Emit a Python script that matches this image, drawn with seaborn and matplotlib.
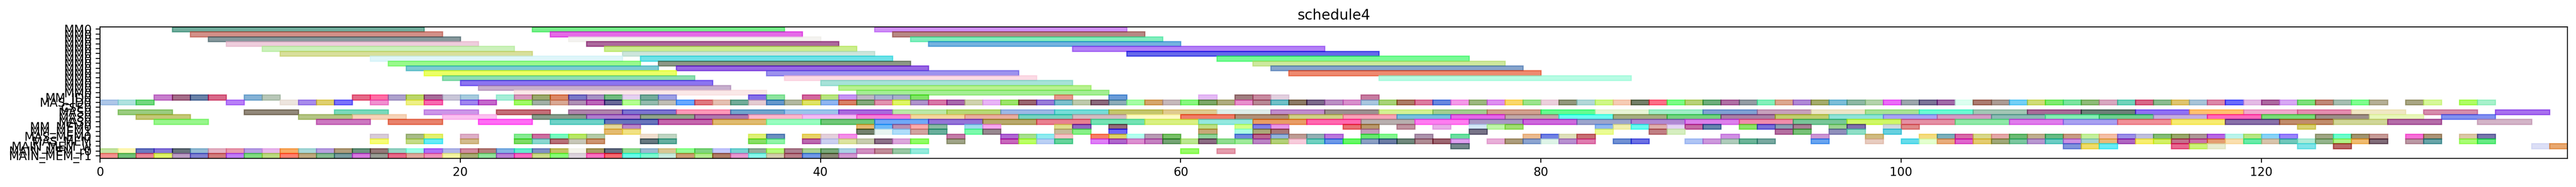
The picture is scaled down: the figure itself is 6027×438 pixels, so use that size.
import matplotlib
matplotlib.use('Agg')
import matplotlib.pyplot as plt
import matplotlib.colors as mcolors
import seaborn as sns
import numpy as np

title = 'schedule4'
x_ticks = [0, 20, 40, 60, 80, 100, 120]
x_max = 137

row_labels = ['MM0'] * 14 + ['MM_ID0', 'MAS_ID0', 'CSE0', 'MAS0', 'MAS0', 'MAS0', 'MM_MEM0', 'MM_MEM1',
                             'MAS_MEM0', 'MAS_MEM', 'MAIN_MEM_w', 'MAIN_MEM_r0', 'MAIN_MEM_r1']
row_lengths = [14] * 14 + [1, 1, 1, 3, 3, 3, 1, 1, 1, 1, 1, 1, 1]

# each row: (start step, colour as it looks on the white background)
row_00 = [(4, '#72AE9E'), (24, '#78F08C'), (43, '#D090F8')]
row_01 = [(5, '#D49088'), (25, '#E66AE8'), (44, '#B88884')]
row_02 = [(6, '#86989C'), (26, '#F4F3F0'), (45, '#82EEBE')]
row_03 = [(7, '#EFCEDC'), (27, '#AC689C'), (46, '#74B2E0')]
row_04 = [(9, '#CCF2BC'), (28, '#CCEE8E'), (54, '#B481F6')]
row_05 = [(10, '#D8DF9B'), (29, '#CEE6DC'), (57, '#5F68EC')]
row_06 = [(15, '#DFF6FA'), (30, '#6EE2E8'), (62, '#78FA96')]
row_07 = [(16, '#99F98D'), (31, '#8D9886'), (64, '#CEE89E')]
row_08 = [(17, '#7CCBD3'), (32, '#9868E4'), (65, '#86A4CC')]
row_09 = [(18, '#ECFF60'), (37, '#9C92EE'), (66, '#EE8A70')]
row_10 = [(19, '#8EDEB2'), (38, '#FCDBE6'), (71, '#B8FCE4')]
row_11 = [(20, '#8B74F2'), (40, '#A6E3D8')]
row_12 = [(21, '#C8AFCE'), (41, '#B8F290')]
row_13 = [(23, '#FAE8E8'), (42, '#A4EE94')]
row_14 = [(3, '#C87FCC'), (4, '#A56E8A'), (5, '#6A82A8'), (6, '#D86A8A'), (8, '#85B2D5'), (9, '#B9C7B8'),
          (14, '#E66A88'), (15, '#FF6FA5'), (16, '#AEA2CC'), (17, '#BBD56A'), (18, '#A66C98'), (19, '#C9C6D8'),
          (20, '#A8CCDE'), (22, '#A6EED8'), (23, '#D89ABE'), (24, '#9CAA6E'), (25, '#DC8866'), (26, '#7A78C8'),
          (27, '#A792C5'), (28, '#72BC80'), (29, '#E6D2F2'), (30, '#74AC9C'), (31, '#9CA0E6'), (36, '#8470E8'),
          (37, '#8EE4A0'), (39, '#D2689E'), (40, '#B8E480'), (41, '#C896F4'), (42, '#BDB8C4'), (43, '#A9B4D2'),
          (44, '#A8B0CC'), (45, '#80E460'), (53, '#E69A8E'), (56, '#6A9CD8'), (61, '#E6BCF6'), (63, '#A07E80'),
          (64, '#C88AA0'), (65, '#E2D0E0'), (70, '#C67CA0')]
row_15 = [(0, '#AEC8E8'), (1, '#B0E2E0'), (2, '#72D880'), (7, '#B880F8'), (10, '#EDE5DF'), (11, '#A88CEC'),
          (12, '#E0D070'), (13, '#7A72FA'), (15, '#F090D0'), (17, '#EEF086'), (18, '#F86AB0'), (20, '#A084F0'),
          (21, '#C468CC'), (23, '#A0FA68'), (24, '#A2B0A6'), (25, '#DAA894'), (26, '#B090B4'), (27, '#BC64B8'),
          (28, '#6A6898'), (29, '#B4FF92'), (30, '#94BCAE'), (31, '#C0BEB6'), (32, '#68A8FF'), (33, '#E07880'),
          (34, '#E6C0B2'), (35, '#72AC98'), (36, '#E6CCD2'), (37, '#6498CC'), (38, '#B2B8A0'), (39, '#E0E466'),
          (40, '#90B6F2'), (41, '#D88066'), (42, '#84AA7C'), (43, '#E294B0'), (44, '#E0F660'), (45, '#B094CC'),
          (46, '#D878A8'), (47, '#A868AC'), (48, '#D0D4AE'), (49, '#E8B4F6'), (50, '#9CE46C'), (51, '#9A6470'),
          (52, '#987CD8'), (53, '#7CC2CE'), (54, '#BECAAC'), (55, '#8A6A7C'), (56, '#8CACB8'), (57, '#A6FEA6'),
          (58, '#D6A66C'), (59, '#C6B8BC'), (60, '#88F880'), (61, '#7CA868'), (62, '#AFAD80'), (63, '#E890CE'),
          (64, '#B88894'), (65, '#70C0C8'), (66, '#8C7A66'), (67, '#7C6A8C'), (68, '#BC90C4'), (69, '#D890CC'),
          (70, '#A8C8E0'), (71, '#A8D478'), (72, '#AC7C66'), (73, '#DC7CA0'), (74, '#6888E0'), (75, '#F49AE8'),
          (76, '#9CB880'), (77, '#DE90F0'), (78, '#FAD86C'), (79, '#9CE48E'), (80, '#EBD0DC'), (81, '#92987C'),
          (82, '#B2D8D8'), (83, '#D0F888'), (84, '#F6CCB6'), (85, '#748068'), (86, '#FC7088'), (87, '#7CFC86'),
          (88, '#B8D278'), (89, '#6EAE7C'), (90, '#B070A4'), (91, '#949CA4'), (92, '#84F0BC'), (93, '#DCA890'),
          (94, '#B088D6'), (95, '#A4AC6C'), (96, '#7CBED8'), (97, '#8EB8A4'), (98, '#B4D4AC'), (99, '#EC6CF8'),
          (100, '#9CA6AC'), (101, '#7C7498'), (102, '#A06CA8'), (103, '#DCFFF0'), (104, '#AC7C70'), (105, '#AC9C94'),
          (106, '#74D0F6'), (107, '#D0DC78'), (108, '#80EC70'), (109, '#7CE4A0'), (110, '#8EBC78'), (111, '#D8A8C0'),
          (112, '#72D4BC'), (113, '#D86888'), (114, '#8CBC90'), (115, '#E0C470'), (116, '#A8C4D8'), (117, '#DC88A8'),
          (118, '#6A6CFC'), (119, '#E4BCE6'), (120, '#AC68A0'), (121, '#D8A8F4'), (122, '#7EE07C'), (123, '#C08878'),
          (124, '#A6BEB2'), (125, '#80FE90'), (126, '#B6B096'), (128, '#AAA684'), (129, '#D6F89A'), (131, '#B0FC60'),
          (132, '#A8F2CC')]
row_16 = []
row_17 = [(1, '#9ACC80'), (8, '#92887A'), (13, '#7ADABC'), (18, '#CC96E8'), (22, '#C46E78'), (26, '#B084AC'),
          (29, '#7C74D0'), (32, '#FC98B8'), (35, '#70A4CC'), (38, '#9CC4EC'), (41, '#A86ADC'), (44, '#BCE8A8'),
          (47, '#B8D876'), (50, '#9CB8E6'), (53, '#76DDD8'), (56, '#C4C66C'), (59, '#E0CA90'), (62, '#E0EEEA'),
          (65, '#C08CCC'), (68, '#9C9090'), (71, '#D4F294'), (74, '#A2CE90'), (77, '#D2A08E'), (80, '#60FA90'),
          (83, '#E8F5D6'), (86, '#A0EEC8'), (89, '#80A0D4'), (92, '#C8A0BC'), (95, '#EDE6C8'), (98, '#A8E296'),
          (101, '#6CFAD4'), (104, '#A2C6B4'), (107, '#A86C98'), (110, '#6C8078'), (113, '#9070F4'), (116, '#FFC070'),
          (119, '#F0A8CC'), (122, '#E48CB0'), (125, '#F0E8C4'), (129, '#D68CAC'), (133, '#A870EE')]
row_18 = [(2, '#C4C878'), (11, '#B4C484'), (14, '#F6D4B8'), (19, '#FCC0F0'), (24, '#889C8C'), (27, '#B07ECC'),
          (30, '#90A48A'), (33, '#AE78AC'), (36, '#FEB8CC'), (39, '#F4BCF4'), (42, '#F880D8'), (45, '#F4D6A0'),
          (48, '#E8AEA0'), (51, '#76D4C0'), (54, '#D4BCC0'), (57, '#FEFAC4'), (60, '#F07C68'), (63, '#B09078'),
          (66, '#D0D088'), (69, '#F8A4B8'), (72, '#78BEE0'), (75, '#E468E8'), (78, '#C0A8A8'), (81, '#68FFF0'),
          (84, '#A4AC80'), (87, '#74D280'), (90, '#A880A4'), (93, '#C0CE6E'), (96, '#90E2D8'), (99, '#A8A4F4'),
          (102, '#D49CC4'), (105, '#8CBAB4'), (108, '#84F0B4'), (111, '#70D090'), (114, '#C4AEE0'), (117, '#FF68BC'),
          (120, '#78DC78'), (123, '#9C8E88'), (126, '#E8F8BC'), (130, '#8290F0')]
row_19 = [(3, '#98F68C'), (12, '#CC78C0'), (16, '#E8826C'), (21, '#FF6CF4'), (25, '#6ED2C8'), (28, '#6874BC'),
          (31, '#C464AC'), (34, '#E0BC70'), (37, '#98FEC0'), (40, '#70C878'), (43, '#70A8F8'), (46, '#9474D8'),
          (49, '#B8A86C'), (52, '#E88090'), (55, '#74E2B4'), (58, '#DAF082'), (61, '#94E8E0'), (64, '#E89C64'),
          (67, '#FF68B0'), (70, '#B8B0AE'), (73, '#FF7CF0'), (76, '#A898C4'), (79, '#CE68DC'), (82, '#9CA4CC'),
          (85, '#B088D4'), (88, '#DC80EC'), (91, '#F08CAC'), (94, '#78C698'), (97, '#D0F860'), (100, '#E490A4'),
          (103, '#90E8A8'), (106, '#E07CEC'), (109, '#A8A0F0'), (112, '#F09098'), (115, '#F8EC70'), (118, '#8870A8'),
          (121, '#C08C6C'), (124, '#D0D698'), (127, '#B46CA8'), (132, '#D4B4C8')]
row_20 = [(28, '#E6D898'), (29, '#BC88C8'), (42, '#E6B870'), (43, '#6CB8F8'), (44, '#B890B4'), (45, '#FCACAC'),
          (46, '#8ABCA4'), (48, '#A0DCEE'), (49, '#F8A8F0'), (53, '#E0DE8E'), (54, '#9068C0'), (56, '#946C78'),
          (61, '#C0E084'), (63, '#D0FF88'), (64, '#8080E8'), (65, '#E898E8'), (69, '#E87074'), (70, '#B8986C'),
          (72, '#C094A0'), (74, '#E8B0E8'), (76, '#D4E8F8'), (77, '#C0F6A8'), (78, '#A0E070'), (83, '#90B8F0'),
          (84, '#F2F0B0'), (85, '#68FCF0'), (86, '#E0B0AC'), (87, '#E6D4F4'), (88, '#C46CA4'), (89, '#6484AC'),
          (91, '#8CE468'), (92, '#7870D8'), (93, '#8CA0B4'), (94, '#A88094'), (96, '#9AD490'), (97, '#8070AC'),
          (99, '#D0D8E0'), (100, '#E08888'), (122, '#D8D070')]
row_21 = [(28, '#E4BC70'), (29, '#F2E284'), (42, '#74826E'), (43, '#E8F4F2'), (44, '#B0DEFA'), (45, '#D0A4A0'),
          (46, '#6AB09C'), (48, '#7CFAAC'), (49, '#988890'), (53, '#C8BC9C'), (54, '#88F088'), (56, '#7068F8'),
          (61, '#C8A878'), (63, '#ACFFE4'), (64, '#ACA878'), (65, '#A87878'), (70, '#C49CBC'), (76, '#787488'),
          (83, '#ECFC94'), (86, '#C08084'), (87, '#D6EEC0'), (93, '#B470A0'), (94, '#78C078'), (96, '#9090BC'),
          (97, '#90E0C8'), (99, '#68D0E0')]
row_22 = [(15, '#D8CCD8'), (17, '#A8BC88'), (18, '#E4F070'), (20, '#DEB0C8'), (23, '#88EC94'), (24, '#CC70A0'),
          (25, '#78FCC0'), (26, '#B8E860'), (27, '#B4CCA8'), (30, '#F0E0D0'), (31, '#C2D6C4'), (36, '#E0F078'),
          (37, '#6C90C0'), (39, '#E8D468'), (40, '#E4D0DC'), (41, '#F490E8'), (47, '#C47CA8'), (50, '#B068D4'),
          (51, '#A8E090'), (52, '#90ECF0'), (53, '#F8C4C8'), (55, '#F88060'), (56, '#E0D468'), (57, '#B4FFF0'),
          (58, '#B89CB4'), (59, '#78C068'), (61, '#90D49C'), (63, '#7088DC'), (64, '#BC6490'), (65, '#94B4DC'),
          (66, '#BE9C94'), (67, '#94B0B4'), (68, '#BC78DC'), (70, '#68E870'), (71, '#84F890'), (73, '#AC94AC'),
          (75, '#6CE0A0'), (79, '#ECBC90'), (80, '#7080E4'), (81, '#E0E0BC'), (82, '#C87074'), (90, '#D090E4'),
          (95, '#CC98D4'), (98, '#D0BC80'), (101, '#F4DC80'), (102, '#7CB0BC'), (103, '#D86CA8'), (104, '#D8D88C'),
          (105, '#E4A8A8'), (106, '#6CBC74'), (107, '#C0B090'), (108, '#68BC84'), (109, '#C89C84'), (110, '#C4F09C'),
          (111, '#F4C0A8'), (112, '#9C90E8'), (113, '#C0C0DC'), (114, '#84BC78'), (115, '#98A86C'), (116, '#AC9898'),
          (117, '#B868E4'), (118, '#BCF4EC'), (119, '#B8E684'), (120, '#88D4F8'), (121, '#9A84FC'), (123, '#A0A684'),
          (124, '#6CFCCC'), (125, '#A09470'), (126, '#C89C98'), (128, '#F870D8'), (129, '#AC9478'), (131, '#DCC8A8'),
          (132, '#7878AC')]
row_23 = [(15, '#F8FC78'), (17, '#C4DC88'), (18, '#60ECF8'), (20, '#D4BC8C'), (23, '#7CDC60'), (24, '#8CD8D0'),
          (25, '#B87078'), (26, '#C8C8B8'), (27, '#CC9470'), (30, '#647880'), (31, '#64B0A0'), (36, '#88E060'),
          (37, '#90F4A8'), (39, '#BC68B0'), (40, '#CCD0F0'), (41, '#DCE4A0'), (42, '#C8CCB0'), (43, '#8C7088'),
          (44, '#DCA8DC'), (45, '#90FC60'), (47, '#A0A488'), (50, '#C868BC'), (51, '#BCFF50'), (52, '#BCD0F4'),
          (53, '#64D49C'), (55, '#E080F8'), (56, '#B060CC'), (57, '#DC90D0'), (58, '#C480C0'), (59, '#74A474'),
          (60, '#BCE890'), (61, '#8C6C84'), (62, '#90DC90'), (63, '#A0EC9C'), (64, '#BC84C4'), (65, '#B4D078'),
          (66, '#F8CCDC'), (67, '#70D0C0'), (68, '#6C98E8'), (69, '#60F860'), (70, '#8CA0C4'), (71, '#6C7CA4'),
          (72, '#70887C'), (73, '#B08C94'), (74, '#9C6470'), (75, '#E0A0F0'), (77, '#E8B0D8'), (78, '#AC9C7C'),
          (79, '#8CA4D0'), (80, '#E0F4E8'), (81, '#B890D0'), (82, '#E07CB0'), (84, '#7090D4'), (85, '#6C70E4'),
          (88, '#B0C4F4'), (89, '#CC98DC'), (90, '#B0CCBC'), (91, '#6CB498'), (92, '#78A8A0'), (95, '#68A4F0'),
          (98, '#E8CCC0'), (100, '#64DCEC'), (101, '#E4FFD0'), (102, '#E8AC7C'), (103, '#E060CC'), (104, '#E4CC70'),
          (105, '#A0A878'), (106, '#7CC8A0'), (107, '#B898D0'), (108, '#6CCCC4'), (109, '#CC90E4'), (110, '#A8D4D0'),
          (111, '#E8BC78'), (112, '#B058C0'), (113, '#F8EE70'), (114, '#D4F060'), (115, '#C4708C'), (116, '#CC70A8'),
          (117, '#E49C70'), (118, '#FAE0B0'), (119, '#68ECA8'), (120, '#D8C4AC'), (121, '#70C8BC'), (122, '#AEECD8'),
          (123, '#94B48C'), (124, '#B0F484'), (125, '#F0BC70'), (126, '#806C78'), (128, '#BC98A4'), (129, '#68A4A8'),
          (131, '#A8FC74'), (132, '#68EC84')]
row_24 = [(75, '#74888C'), (109, '#8094DC'), (110, '#F0DC68'), (111, '#68ECF8'), (115, '#E86890'), (116, '#CCF478'),
          (117, '#E8ECD0'), (122, '#80E4E8'), (124, '#BC6868'), (135, '#DCE0F6'), (136, '#E8A870')]
row_25 = [(0, '#C4E4A4'), (1, '#FEF8B8'), (2, '#6C78C0'), (3, '#8878D8'), (4, '#68747C'), (5, '#94BCD4'),
          (6, '#E4B4C4'), (7, '#E89CB0'), (8, '#B8A0E4'), (9, '#E8B8EC'), (10, '#F8AC64'), (11, '#A8D8D8'),
          (12, '#B8A0E0'), (13, '#B09C7C'), (14, '#6C9480'), (15, '#947878'), (16, '#98D4C4'), (17, '#9CFFE8'),
          (18, '#B070F8'), (19, '#B4B8E8'), (20, '#D08CA0'), (21, '#B4807C'), (22, '#84B4E4'), (23, '#64ECCC'),
          (24, '#8090C4'), (25, '#C4C060'), (26, '#F4F4EC'), (27, '#A89C60'), (28, '#687084'), (29, '#94DC94'),
          (30, '#9CBCD0'), (31, '#D8C894'), (32, '#94FF94'), (33, '#80D480'), (34, '#C4C8FC'), (35, '#78D4D4'),
          (36, '#94AC9C'), (37, '#B4FC78'), (38, '#AC8090'), (39, '#A8D094'), (40, '#78A878'), (41, '#ACD0E4'),
          (42, '#D090C0'), (43, '#C08C98'), (44, '#98C8A4'), (45, '#94ECDC'), (60, '#98FC68'), (62, '#E49CAC')]
row_26 = [(0, '#F49090'), (1, '#70C078'), (2, '#E88494'), (3, '#E0F468'), (4, '#BC9CC4'), (5, '#8080D0'),
          (6, '#D07C7C'), (7, '#C07CF8'), (8, '#80DC80'), (9, '#BCDC80'), (10, '#FF8070'), (11, '#C0A880'),
          (12, '#84BC90'), (13, '#789CA0'), (14, '#D878E0'), (15, '#989C94'), (16, '#E86888'), (17, '#E0A89C'),
          (18, '#F090B8'), (19, '#F4F4A0'), (20, '#A8AC74'), (21, '#90E49C'), (22, '#BC80D4'), (23, '#FC68C0'),
          (24, '#CCDC88'), (25, '#88FC78'), (26, '#DCD4DC'), (27, '#FC70C0'), (28, '#F86870'), (29, '#68FCE8'),
          (30, '#7CFCD0'), (31, '#C8ECE0'), (32, '#CC9C74'), (33, '#B4EC90'), (34, '#B07C64'), (35, '#E898D0'),
          (36, '#88F8EC'), (37, '#D4CCAC'), (38, '#B87C88'), (39, '#7098E8'), (40, '#888874'), (41, '#D498D0')]

rows = [row_00, row_01, row_02, row_03, row_04, row_05, row_06, row_07, row_08, row_09, row_10, row_11, row_12,
        row_13, row_14, row_15, row_16, row_17, row_18, row_19, row_20, row_21, row_22, row_23, row_24, row_25, row_26]

ALPHA = 0.6


def base_colour(shown):
    # undo the alpha blend against white
    rgb = np.array(mcolors.to_rgb(shown))
    return tuple(np.clip((rgb - (1 - ALPHA)) / ALPHA, 0, 1))


sns.set_style('ticks', rc={'font.family': 'DejaVu Sans', 'axes.edgecolor': 'black', 'text.color': 'black',
                           'xtick.color': 'black', 'ytick.color': 'black', 'axes.labelcolor': 'black'})

fig = plt.figure(figsize=(6027 / 200, 438 / 200), dpi=200)
ax = fig.add_axes([234 / 6027, 1 - 370.7 / 438, (6007 - 234) / 6027, (370.7 - 62.7) / 438])

for row_idx, row in enumerate(rows):
    for start, shown in row:
        c = base_colour(shown)
        sns.barplot(x=[row_lengths[row_idx]], y=[row_idx], orient='y', native_scale=True, width=1, left=start,
                    color=c, saturation=1, errorbar=None, alpha=ALPHA, edgecolor=c, linewidth=1, ax=ax)

ax.set_xlim(0, x_max)
ax.set_ylim(len(rows) - 0.5, -0.5)
ax.set_xticks(x_ticks)
ax.set_xticklabels([str(t) for t in x_ticks])
ax.set_yticks(range(len(rows)))
ax.set_yticklabels(row_labels)
ax.set_xlabel('')
ax.set_ylabel('')
ax.set_title(title)

fig.savefig('out.png', dpi=200)
